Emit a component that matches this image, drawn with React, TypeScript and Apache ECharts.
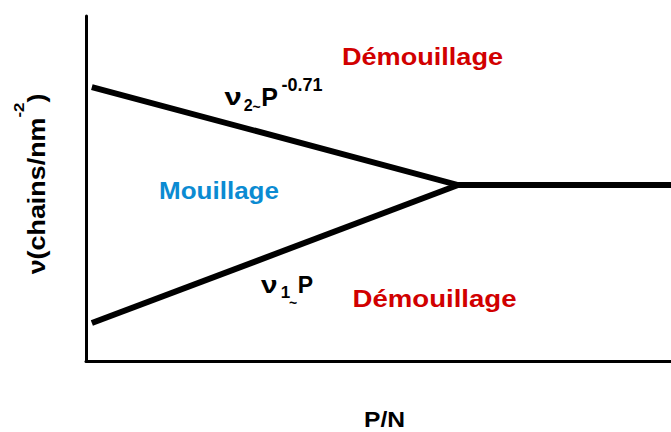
import React, { useEffect, useRef } from "react";
import * as echarts from "echarts";

// Phase boundaries (axis units: P/N on x, ν on y; both 0–100 arbitrary)
const boundaryX = [1, 63.6, 100];
const upperY = [79.4, 51.0, 51.0]; // ν2 ~ P^-0.71, then plateau
const lowerX = [1, 63.6];
const lowerY = [11.0, 51.0]; // ν1 ~ P

const regionLabels = ["Démouillage", "Mouillage", "Démouillage"];
const xAxisName = "P/N";
const yAxisName = "ν(chains/nm";
const yAxisSup = "-2";

const FONT = '"Liberation Sans", Arial, sans-serif';
const RED = "#d10000";
const BLUE = "#0b8bd2";

function txt(text: string, x: number, y: number, fontSize: number, opts: any = {}) {
  return {
    type: "text",
    x,
    y,
    scaleX: opts.scaleX ?? 1,
    rotation: opts.rotation ?? 0,
    style: {
      text,
      fontFamily: FONT,
      fontWeight: "bold",
      fontSize,
      fill: opts.fill ?? "#000",
      align: opts.align ?? "left",
      verticalAlign: "middle",
    },
    z: 10,
  };
}

export default function App() {
  const ref = useRef<HTMLDivElement>(null);
  useEffect(() => {
    document.body.style.margin = "0";
    const chart = echarts.init(ref.current!, null, { renderer: "svg" });
    const upper = boundaryX.map((x, i) => [x, upperY[i]]);
    const lower = lowerX.map((x, i) => [x, lowerY[i]]);
    chart.setOption({
      animation: false,
      grid: { left: 86, right: 0, top: 16, bottom: 71 },
      xAxis: {
        type: "value",
        min: 0,
        max: 100,
        axisLine: { show: true, onZero: false, lineStyle: { color: "#000", width: 3 } },
        axisTick: { show: false },
        axisLabel: { show: false },
        splitLine: { show: false },
      },
      yAxis: {
        type: "value",
        min: 0,
        max: 100,
        axisLine: { show: true, onZero: false, lineStyle: { color: "#000", width: 3 } },
        axisTick: { show: false },
        axisLabel: { show: false },
        splitLine: { show: false },
      },
      series: [
        {
          name: "ν2",
          type: "line",
          data: upper,
          symbol: "none",
          lineStyle: { color: "#000", width: 6, cap: "butt", join: "miter" },
        },
        {
          name: "ν1",
          type: "line",
          data: lower,
          symbol: "none",
          lineStyle: { color: "#000", width: 6, cap: "butt" },
        },
      ],
      graphic: [
        txt(regionLabels[0], 422.5, 56.7, 24, { align: "center", scaleX: 1.13, fill: RED }),
        txt(regionLabels[1], 219, 191.2, 23, { align: "center", scaleX: 1.13, fill: BLUE }),
        txt(regionLabels[2], 434.5, 298.2, 24, { align: "center", scaleX: 1.15, fill: RED }),
        txt(xAxisName, 384.5, 419.7, 22, { align: "center", scaleX: 1.12 }),
        // ν2 ~ P^-0.71
        txt("ν", 224.5, 97, 24, { scaleX: 1.3 }),
        txt("2", 243.7, 105.1, 16),
        txt("~", 252.5, 106.5, 14),
        txt("P", 261.2, 96.6, 25),
        txt("-0.71", 281.5, 85.2, 18),
        // ν1 ~ P
        txt("ν", 261, 285.3, 23, { scaleX: 1.3 }),
        txt("1", 280.7, 292.4, 17),
        txt("~", 289, 303, 14),
        txt("P", 297.8, 285.3, 23),
        // y axis name
        {
          type: "text",
          x: 36.7,
          y: 184,
          rotation: Math.PI / 2,
          scaleX: 1.12,
          style: {
            text: `{m|${yAxisName}}{s|${yAxisSup}}{m|)}`,
            fontFamily: FONT,
            fontWeight: "bold",
            align: "center",
            verticalAlign: "middle",
            fill: "#000",
            rich: {
              m: { fontSize: 24, fontFamily: FONT, fontWeight: "bold", lineHeight: 50, fill: "#000" },
              s: {
                fontSize: 15,
                fontFamily: FONT,
                fontWeight: "bold",
                lineHeight: 17,
                verticalAlign: "top",
                fill: "#000",
              },
            },
          },
          z: 10,
        },
      ],
    });
    return () => chart.dispose();
  }, []);
  return <div ref={ref} style={{ width: 671, height: 432 }} />;
}
